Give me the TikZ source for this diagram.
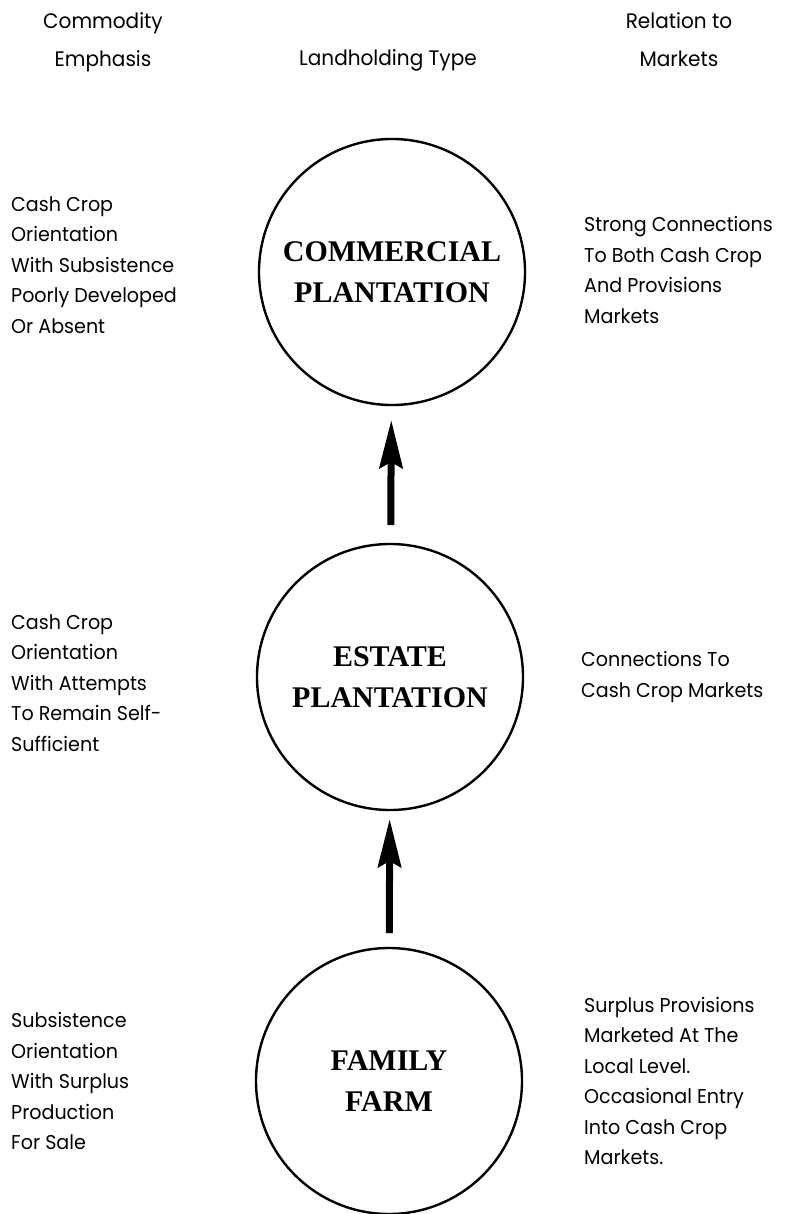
\documentclass[tikz,border=0pt]{standalone}
\usepackage{fontspec}
\newfontfamily\sidefont[FakeStretch=0.955]{Poppins}
\newfontfamily\titlefont{Liberation Serif}
\usetikzlibrary{arrows.meta}
\tikzset{
  hdr/.style={font=\sidefont\fontsize{21}{38}\selectfont, align=center, inner sep=0pt},
  side/.style={font=\sidefont\fontsize{20}{30.5}\selectfont, align=left, anchor=west, inner sep=0pt},
  land/.style={circle, draw, line width=2.4pt, minimum size=266pt, inner sep=0pt, outer sep=0pt,
    font=\titlefont\bfseries\fontsize{30}{41}\selectfont, align=center},
  arr/.style={line width=7pt, -{Stealth[length=48pt 0, width=23pt 0, inset=6pt 0]}}
}
\begin{document}
\begin{tikzpicture}[x=1pt, y=-1pt]
\useasboundingbox (0,0) rectangle (785,1214);
% headers
\node[hdr] (h1) at (103,42) {Commodity\\Emphasis};
\node[hdr, anchor=base] (h2) at (388,66) {Landholding Type};
\node[hdr] (h3) at (679,40) {Relation to\\Markets};
% landholding circles
\node[land] (cp) at (392,272) {COMMERCIAL\\PLANTATION};
\node[land] (ep) at (390,677) {ESTATE\\PLANTATION};
\node[land] (ff) at (389,1081) {FAMILY\\FARM};
% arrows
\draw[arr, shorten <=19pt, shorten >=15pt] (ep) -- (cp);
\draw[arr, shorten <=15pt, shorten >=9pt] (ff) -- (ep);
% commodity emphasis
\node[side] (l1) at (11,265) {Cash Crop\\Orientation\\With Subsistence\\Poorly Developed\\Or Absent};
\node[side] (l2) at (11,683) {Cash Crop\\Orientation\\With Attempts\\To Remain Self-\\Sufficient};
\node[side] (l3) at (11,1081) {Subsistence\\Orientation\\With Surplus\\Production\\For Sale};
% relation to markets
\node[side] (r1) at (584,270) {Strong Connections\\To Both Cash Crop\\And Provisions\\Markets};
\node[side] (r2) at (581,677) {Connections To\\Cash Crop Markets};
\node[side] (r3) at (584,1081) {Surplus Provisions\\Marketed At The\\Local Level.\\Occasional Entry\\Into Cash Crop\\Markets.};
\end{tikzpicture}
\end{document}
